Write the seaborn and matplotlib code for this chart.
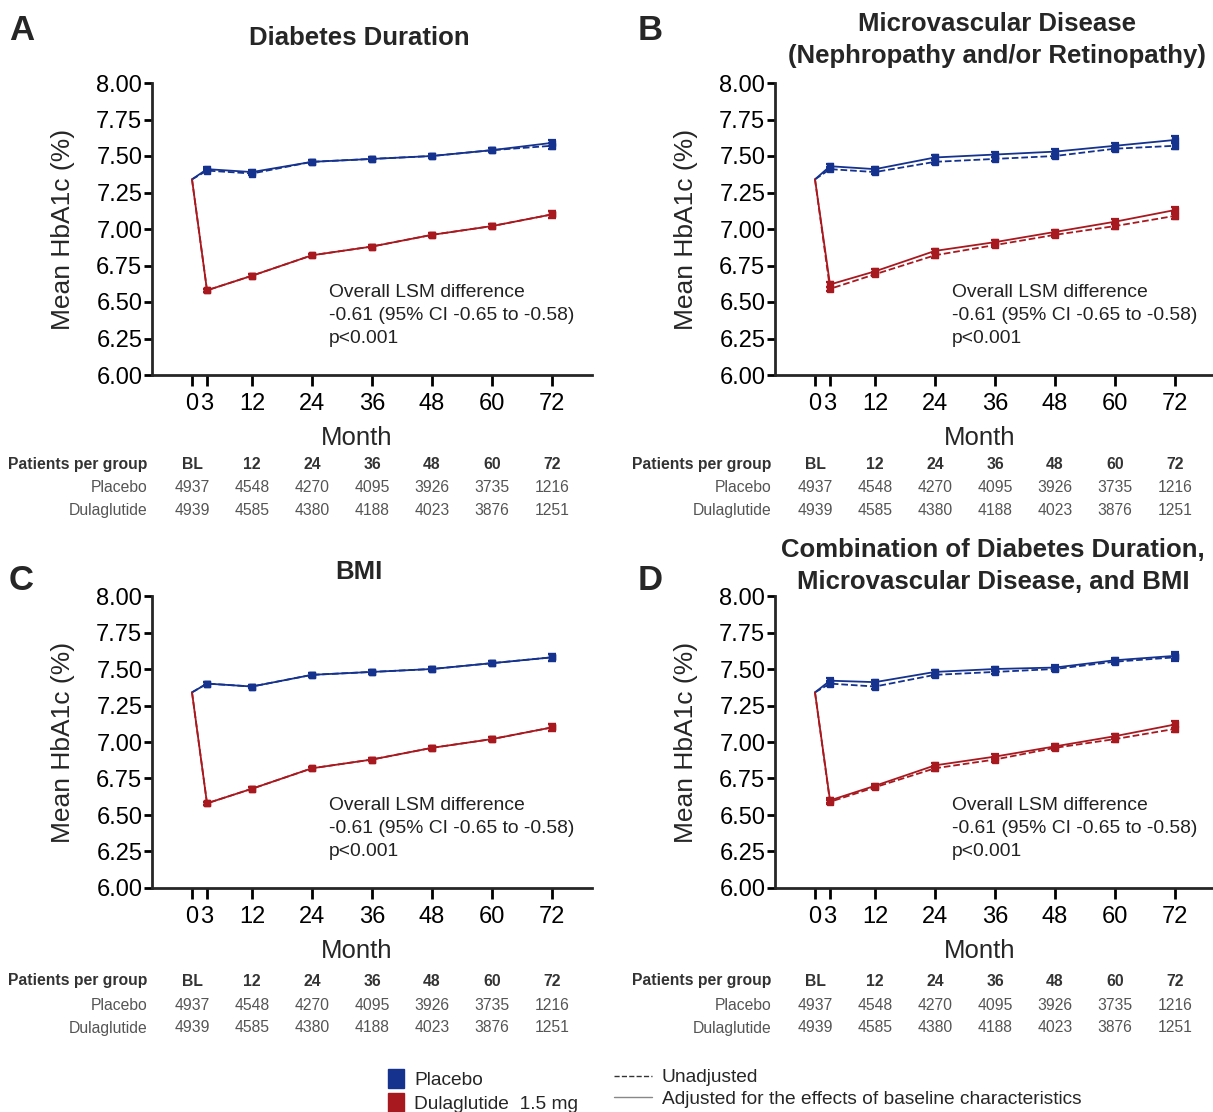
# HbA1c over time by subgroup adjustment - 4 panel figure
import numpy as np
import pandas as pd
import matplotlib
matplotlib.use('Agg')
import matplotlib.pyplot as plt
import matplotlib.transforms as mtransforms
from matplotlib.patches import Patch
from matplotlib.lines import Line2D
import seaborn as sns

sns.set_style('ticks')
plt.rcParams['font.family'] = ['Liberation Sans', 'DejaVu Sans']

# Data
months = [0, 3, 12, 24, 36, 48, 60, 72]
month_labels = ['0', '3', '12', '24', '36', '48', '60', '72']

# Panel A: Diabetes Duration
a_pbo_adj = [7.34, 7.41, 7.39, 7.46, 7.48, 7.50, 7.54, 7.59]
a_pbo_unadj = [7.34, 7.40, 7.38, 7.46, 7.48, 7.50, 7.54, 7.57]
a_dula_adj = [7.34, 6.58, 6.68, 6.82, 6.88, 6.96, 7.02, 7.10]
a_dula_unadj = [7.34, 6.58, 6.68, 6.82, 6.88, 6.96, 7.02, 7.10]

# Panel B: Microvascular disease
b_pbo_adj = [7.34, 7.43, 7.41, 7.49, 7.51, 7.53, 7.57, 7.61]
b_pbo_unadj = [7.34, 7.41, 7.39, 7.46, 7.48, 7.50, 7.55, 7.57]
b_dula_adj = [7.34, 6.62, 6.71, 6.85, 6.91, 6.98, 7.05, 7.13]
b_dula_unadj = [7.34, 6.59, 6.69, 6.82, 6.89, 6.96, 7.02, 7.09]

# Panel C: BMI
c_pbo_adj = [7.34, 7.40, 7.38, 7.46, 7.48, 7.50, 7.54, 7.58]
c_pbo_unadj = [7.34, 7.40, 7.38, 7.46, 7.48, 7.50, 7.54, 7.58]
c_dula_adj = [7.34, 6.58, 6.68, 6.82, 6.88, 6.96, 7.02, 7.10]
c_dula_unadj = [7.34, 6.58, 6.68, 6.82, 6.88, 6.96, 7.02, 7.10]

# Panel D: combination
d_pbo_adj = [7.34, 7.42, 7.41, 7.48, 7.50, 7.51, 7.56, 7.59]
d_pbo_unadj = [7.34, 7.40, 7.38, 7.46, 7.48, 7.50, 7.55, 7.58]
d_dula_adj = [7.34, 6.60, 6.70, 6.84, 6.90, 6.97, 7.04, 7.12]
d_dula_unadj = [7.34, 6.59, 6.69, 6.82, 6.88, 6.96, 7.02, 7.09]

err_small = [0.012, 0.012, 0.012, 0.012, 0.012, 0.012, 0.022]
err_big = [0.015, 0.015, 0.016, 0.016, 0.016, 0.017, 0.024]

# Patients per group table
table_cols = ['BL', '12', '24', '36', '48', '60', '72']
table_x = [0, 12, 24, 36, 48, 60, 72]
n_placebo = [4937, 4548, 4270, 4095, 3926, 3735, 1216]
n_dula = [4939, 4585, 4380, 4188, 4023, 3876, 1251]

titles = ['Diabetes Duration',
          'Microvascular Disease\n(Nephropathy and/or Retinopathy)',
          'BMI',
          'Combination of Diabetes Duration,\nMicrovascular Disease, and BMI']
letters = ['A', 'B', 'C', 'D']

blue = '#14328e'
red = '#a8191f'

panels = [
    (a_pbo_adj, a_pbo_unadj, a_dula_adj, a_dula_unadj, err_small),
    (b_pbo_adj, b_pbo_unadj, b_dula_adj, b_dula_unadj, err_big),
    (c_pbo_adj, c_pbo_unadj, c_dula_adj, c_dula_unadj, err_small),
    (d_pbo_adj, d_pbo_unadj, d_dula_adj, d_dula_unadj, err_big),
]

W, H = 1213, 1112
fig = plt.figure(figsize=(W / 100, H / 100), dpi=100)

# layout in pixels: (left spine x, bottom y, title center x, title center y, letter x, letter y, table rows y, table left x, row label right x)
layout = [
    (152, 375, 359, 38, 9, 30, [464, 488, 511], 8, 148),
    (775, 375, 997, 40, 638, 30, [464, 488, 511], 632, 772),
    (152, 888, 359, 572, 9, 580, [981, 1005, 1028], 8, 148),
    (775, 888, 993, 566, 638, 580, [981, 1005, 1028], 632, 772),
]

for i, (pbo_adj, pbo_unadj, dula_adj, dula_unadj, err) in enumerate(panels):
    lx, by, tx, ty, ltx, lty, rows, tleft, rright = layout[i]
    ax = fig.add_axes([lx / W, 1 - by / H, 440 / W, 292 / H])

    for vals, col, ls in [(pbo_unadj, blue, '--'), (dula_unadj, red, '--'),
                          (pbo_adj, blue, '-'), (dula_adj, red, '-')]:
        sns.lineplot(x=months, y=vals, ax=ax, color=col, linestyle=ls, lw=1.3)
        ax.errorbar(months[1:], vals[1:], yerr=err, fmt='s', ms=4.5, color=col,
                    ecolor=col, elinewidth=1.6, capsize=3, capthick=1.6, zorder=3)

    ax.set_xlim(-8, 80)
    ax.set_ylim(6, 8)
    ax.set_xticks(months)
    ax.set_xticklabels(month_labels)
    ax.set_yticks(np.arange(6, 8.01, 0.25))
    ax.set_yticklabels(['%.2f' % v for v in np.arange(6, 8.01, 0.25)])
    ax.tick_params(axis='both', labelsize=17, width=2, colors='black')
    ax.tick_params(axis='x', length=8, pad=5)
    ax.tick_params(axis='y', length=6, pad=1)
    for s in ['left', 'bottom']:
        ax.spines[s].set_linewidth(2)
    sns.despine(ax=ax)

    ax.set_xlabel('Month', fontsize=18.5)
    ax.xaxis.set_label_coords(0.466, -0.175)
    ax.set_ylabel('Mean HbA1c (%)', fontsize=19)
    ax.yaxis.set_label_coords(-0.175, 0.497)

    ax.text(27.4, 6.62, 'Overall LSM difference\n-0.61 (95% CI -0.65 to -0.58)\np<0.001',
            fontsize=13.9, va='top', ha='left', linespacing=1.45, color='#222222')

    fig.text(tx / W, 1 - ty / H, titles[i], fontsize=18.5, fontweight='bold',
             ha='center', va='center', linespacing=1.4)
    fig.text(ltx / W, 1 - lty / H, letters[i], fontsize=25, fontweight='bold',
             ha='left', va='center')

    # patients per group table
    trans = mtransforms.blended_transform_factory(ax.transData, fig.transFigure)
    fig.text(tleft / W, 1 - rows[0] / H, 'Patients per group', fontsize=11.3, fontweight='bold',
             color='#333333', ha='left', va='center')
    fig.text(rright / W, 1 - rows[1] / H, 'Placebo', fontsize=11.3, color='#555555',
             ha='right', va='center')
    fig.text(rright / W, 1 - rows[2] / H, 'Dulaglutide', fontsize=11.3, color='#555555',
             ha='right', va='center')
    for xc, lab, n1, n2 in zip(table_x, table_cols, n_placebo, n_dula):
        ax.text(xc, 1 - rows[0] / H, lab, transform=trans, fontsize=11.3, fontweight='bold',
                color='#333333', ha='center', va='center', clip_on=False)
        ax.text(xc, 1 - rows[1] / H, str(n1), transform=trans, fontsize=11.3,
                color='#555555', ha='center', va='center', clip_on=False)
        ax.text(xc, 1 - rows[2] / H, str(n2), transform=trans, fontsize=11.3,
                color='#555555', ha='center', va='center', clip_on=False)

# legends
group_handles = [Patch(facecolor=blue, edgecolor=blue), Patch(facecolor=red, edgecolor=red)]
fig.legend(group_handles, ['Placebo', 'Dulaglutide  1.5 mg'], loc='upper left',
           bbox_to_anchor=(388 / W, 1 - 1069 / H), frameon=False, fontsize=13.8,
           handlelength=0.85, handleheight=1.15, handletextpad=0.5, labelspacing=0.2,
           borderaxespad=0, borderpad=0)
line_handles = [Line2D([], [], color='#333333', ls='--', lw=1),
                Line2D([], [], color='#888888', ls='-', lw=1)]
fig.legend(line_handles, ['Unadjusted', 'Adjusted for the effects of baseline characteristics'],
           loc='upper left', bbox_to_anchor=(614 / W, 1 - 1069 / H), frameon=False,
           fontsize=13.8, handlelength=2.0, handletextpad=0.5, labelspacing=0.2,
           borderaxespad=0, borderpad=0)

fig.savefig('out.png', dpi=100)
